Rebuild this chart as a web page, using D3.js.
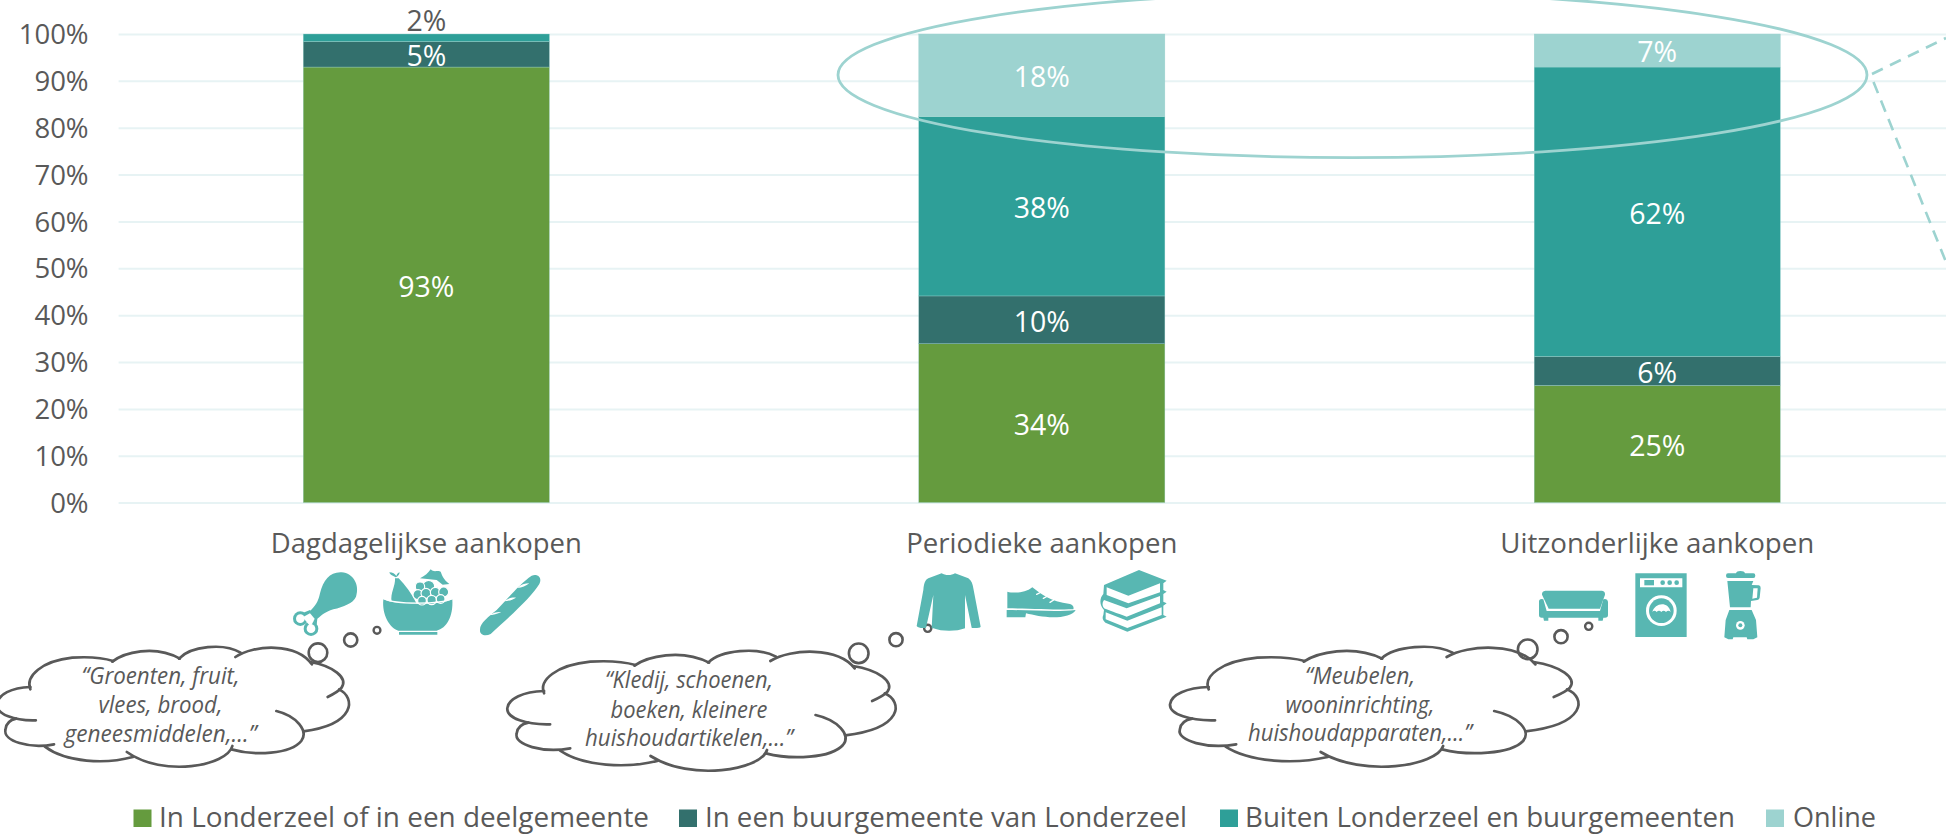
<!DOCTYPE html>
<html><head><meta charset="utf-8">
<script src="https://cdnjs.cloudflare.com/ajax/libs/d3/7.8.5/d3.min.js"></script>
<style>html,body{margin:0;padding:0;background:#fff;overflow:hidden}svg{display:block}text{font-family:"Open Sans",sans-serif}</style>
</head><body><svg id="c" width="1946" height="834"></svg>
<script>
const categories = ["Dagdagelijkse aankopen","Periodieke aankopen","Uitzonderlijke aankopen"];
const seriesNames = ["In Londerzeel of in een deelgemeente","In een buurgemeente van Londerzeel","Buiten Londerzeel en buurgemeenten","Online"];
const seriesColors = ["#659B3E","#33706D","#2E9F98","#9DD3D0"];
const inLonderzeel = [92.95,33.9,25];
const buurgemeente = [5.45,10.2,6.2];
const buiten = [1.6,38.25,61.75];
const online = [0,17.65,7.05];
const tickValues = [0,10,20,30,40,50,60,70,80,90,100];
const quotes = [
  ["“Groenten, fruit,","vlees, brood,","geneesmiddelen,…”"],
  ["“Kledij, schoenen,","boeken, kleinere","huishoudartikelen,…”"],
  ["“Meubelen,","wooninrichting,","huishoudapparaten,…”"]
];

const grey="#595959", iconC="#58B7B2", ringC="#9DD3D0";
const svg=d3.select("#c");
const x=d3.scaleBand().domain(categories).range([118.6,1965]).paddingInner(.6).paddingOuter(.3);
const y=d3.scaleLinear().domain([0,100]).range([502.6,34]);

// grid & axis
const ax=svg.append("g").attr("transform","translate(118.6,0)")
  .call(d3.axisLeft(y).tickValues(tickValues).tickFormat(d=>d+"%").tickSize(-1830).tickPadding(30));
ax.select(".domain").remove();
ax.selectAll("line").attr("stroke","#E7F3F4").attr("stroke-width",2);
ax.selectAll("text").attr("fill",grey).attr("font-size",27.5).attr("dy","0.35em").style("font-family",'"Open Sans"');

// stacked bars
const rows=categories.map((c,i)=>({c,s0:inLonderzeel[i],s1:buurgemeente[i],s2:buiten[i],s3:online[i]}));
const stack=d3.stack().keys(["s0","s1","s2","s3"])(rows);
stack.forEach((ser,si)=>{
  svg.append("g").selectAll("rect").data(ser).join("rect")
    .attr("x",d=>x(d.data.c)).attr("width",x.bandwidth())
    .attr("y",d=>y(d[1])).attr("height",d=>y(d[0])-y(d[1]))
    .attr("fill",seriesColors[si]).attr("stroke",ringC).attr("stroke-width",d=>d[1]>d[0]?.35:0);
});
stack.forEach((ser,si)=>{
  svg.append("g").selectAll("text").data(ser.filter(d=>d[1]>d[0])).join("text")
    .attr("x",d=>x(d.data.c)+x.bandwidth()/2)
    .attr("y",d=>{const v=d[1]-d[0];return v<3?y(d[1])-13:y((d[0]+d[1])/2)+2;})
    .attr("dy","0.35em").attr("text-anchor","middle").attr("font-size",28.5)
    .attr("fill",d=>d[1]-d[0]<3?grey:"#fff").text(d=>Math.round(d[1]-d[0])+"%");
});

// category labels
const catW=[311,271,314];
svg.append("g").selectAll("text").data(categories).join("text")
  .attr("x",d=>x(d)+x.bandwidth()/2).attr("y",553).attr("text-anchor","middle")
  .attr("font-size",28).attr("fill",grey)
  .attr("textLength",(d,i)=>catW[i]).attr("lengthAdjust","spacingAndGlyphs").text(d=>d);

// highlight ellipse + dashed leaders
svg.append("ellipse").attr("cx",1352.5).attr("cy",75).attr("rx",514.5).attr("ry",82.7)
  .attr("fill","none").attr("stroke",ringC).attr("stroke-width",2.8);
[[[1872,74],[1946,38]],[[1873.5,82],[1946,262]]].forEach(l=>{
  svg.append("path").attr("d",d3.line()(l)).attr("fill","none").attr("stroke",ringC)
    .attr("stroke-width",2.6).attr("stroke-dasharray","12 8");
});

// clouds: open arcs in one template shape
const cloudArcs=[
"M132,190 C115,150 170,105 270,95 C320,92 370,95 405,105",
"M402,107 C440,80 540,55 625,98",
"M622,98 C660,60 770,50 825,80",
"M808,93 C870,55 1010,50 1060,115",
"M1055,108 C1130,120 1180,155 1158,185 C1148,197 1130,205 1112,213",
"M1150,190 C1205,215 1205,295 1032,316",
"M943,255 C1010,270 1050,315 1025,345 C990,385 870,390 795,370",
"M798,360 C780,420 570,455 450,378",
"M470,393 C380,415 250,410 180,362",
"M210,355 C130,370 40,345 50,310 C52,292 65,282 85,278",
"M150,283 C80,285 20,265 22,235 C25,205 70,185 132,183"
];
const cloudPos=[{x:-3,y:646,sx:.91},{x:507.3,y:650,sx:1.004},{x:1170,y:646,sx:1.056}];
cloudPos.forEach(p=>{
  const g=svg.append("g").attr("transform",`translate(${p.x},${p.y}) scale(${p.sx/3},${1/3}) translate(-22,-60)`);
  g.selectAll("path").data(cloudArcs).join("path").attr("d",d=>d).attr("fill","none")
    .attr("stroke",grey).attr("stroke-width",2.7).attr("stroke-linecap","round").style("vector-effect","non-scaling-stroke");
});
const bubbles=[[318,652.7,9.3,2.6],[350.7,640,6.6,2.6],[377,630.3,3.4,2.4],
 [858.7,653.3,9.8,2.6],[896,639.7,6.6,2.6],[927.7,628.3,3.6,2.4],
 [1527.7,649.3,9.8,2.6],[1561,636.7,6.6,2.6],[1588.7,626.3,3.6,2.4]];
svg.append("g").selectAll("circle").data(bubbles).join("circle")
  .attr("cx",d=>d[0]).attr("cy",d=>d[1]).attr("r",d=>d[2]).attr("fill","none")
  .attr("stroke",grey).attr("stroke-width",d=>d[3]);

// cloud text
const quoteX=[160.5,689,1360], quoteY=[[684,713,742],[688,717.5,746],[684,713,741]];
const quoteW=[[158,124,192],[168,157,208],[110,149,224]];
quotes.forEach((q,i)=>q.forEach((t,j)=>{
  svg.append("text").attr("x",quoteX[i]).attr("y",quoteY[i][j]).attr("text-anchor","middle")
   .attr("font-size",23).attr("font-style","italic").attr("fill",grey)
   .attr("textLength",quoteW[i][j]).attr("lengthAdjust","spacingAndGlyphs").text(t);
}));

// legend
const legX=[133.5,679,1220,1766], legTx=[159,705,1245,1793], legW=[490,482,490,83];
seriesNames.forEach((n,i)=>{
  svg.append("rect").attr("x",legX[i]).attr("y",809.5).attr("width",18).attr("height",17.5).attr("fill",seriesColors[i]);
  svg.append("text").attr("x",legTx[i]).attr("y",827).attr("font-size",28).attr("fill",grey)
   .attr("textLength",legW[i]).attr("lengthAdjust","spacingAndGlyphs").text(n);
});

// pictograms, traced at 3x
const icons=svg.append("g");
function ic(ox,oy,fn){const g=icons.append("g").attr("transform",`translate(${ox},${oy}) scale(${1/3})`);fn(g);}
const P=(g,d,f=iconC)=>g.append("path").attr("d",d).attr("fill",f);
const C=(g,cx,cy,r,f=iconC)=>g.append("circle").attr("cx",cx).attr("cy",cy).attr("r",r).attr("fill",f);
const L=(g,d,w=5)=>g.append("path").attr("d",d).attr("fill","none").attr("stroke","#fff").attr("stroke-width",w).attr("stroke-linecap","round");
ic(280,560,g=>{
  // drumstick
  P(g,"M120,100 C130,60 150,35 185,37 C220,40 240,75 228,110 C220,130 190,140 160,148 C135,155 120,170 110,178 L88,155 C105,140 115,125 120,100 Z");
  C(g,61,176,22);C(g,93,206,22);
  P(g,"M70,158 L90,150 L112,176 L110,194 Z");
  C(g,61,176,13,"#fff");C(g,93,206,13,"#fff");
  P(g,"M68,172 L90,160 L104,176 L92,200 Z","#fff");
  // bowl
  P(g,"M310,118 C345,136 480,136 517,118 C520,170 500,205 470,212 L355,212 C330,205 305,165 310,118 Z");
  P(g,"M357,216 L472,216 L472,224 L357,224 Z");
  // pear
  P(g,"M335,125 C330,100 347,78 345,55 L356,55 C375,75 395,100 410,131 C380,132 355,129 335,125 Z");
  P(g,"M347,52 C340,48 330,45 328,37 C338,37 345,42 349,48 C351,42 354,38 359,37 C358,44 354,50 347,52 Z");
  // grapes + leaf
  P(g,"M420,55 C435,48 445,38 452,28 C462,38 470,30 482,35 C486,45 490,58 508,72 L488,74 L470,60 Z");
  [[446,79,18],[420,80,14],[414,104,15],[438,100,15],[466,97,15],[491,96,15],[426,122,13],[455,120,14],[482,117,13]].forEach(c=>{
    g.append("circle").attr("cx",c[0]).attr("cy",c[1]).attr("r",c[2]).attr("fill",iconC).attr("stroke","#fff").attr("stroke-width",3.5);
  });
  L(g,"M312,116 C345,134 480,134 517,116",4);
  // baguette
  P(g,"M600,208 C600,190 625,170 650,150 C680,120 720,70 755,47 C775,40 787,55 778,72 C755,110 700,160 632,222 C615,230 598,225 600,208 Z");
  P(g,"M625,166 C640,158 652,155 664,156 C652,162 640,165 625,166 Z M672,124 C685,115 695,112 708,113 C697,120 685,123 672,124 Z M712,84 C722,74 735,70 748,70 C738,78 726,83 712,84 Z","#fff");
});
ic(900,560,g=>{
  // sweater
  P(g,"M125,40 C135,47 155,47 165,40 L205,55 C215,62 218,72 220,85 L242,200 C240,205 220,205 215,203 L195,105 L195,205 C170,215 125,215 100,205 L95,205 L100,105 L78,203 C70,205 55,205 50,198 L70,90 C72,70 75,60 85,55 Z");
  // shoe
  P(g,"M322,95 C340,100 375,100 397,82 C420,100 450,125 510,132 C520,135 522,142 520,148 C470,150 390,145 322,145 Z");
  P(g,"M320,150 C390,150 470,157 527,150 C520,165 490,172 460,172 C430,172 400,165 378,160 L376,172 L320,172 Z");
  L(g,"M410,103 L424,96 M430,115 L443,108 M450,127 L461,120",4);
  // books
  P(g,"M717,30 L800,62 L790,70 L790,90 L800,95 L790,102 L790,125 L800,130 L790,137 L790,165 L800,170 L682,215 L620,190 C610,185 605,175 610,165 L612,150 C598,135 598,115 610,102 L612,75 Z");
  P(g,"M620,82 L685,107 L780,70 L780,97 L685,130 L620,105 Z M612,120 L680,145 L780,108 L780,130 L680,170 C650,160 625,150 612,145 C606,138 606,127 612,120 Z M617,157 L682,182 L785,142 L785,165 L682,204 L617,178 Z","#fff");
});
ic(1520,560,g=>{
  // sofa
  P(g,"M76,92 L246,92 Q256,93 255,104 L240,146 L86,146 L66,104 Q65,93 76,92 Z");
  P(g,"M57,125 Q57,115 70,118 L80,153 L240,153 L250,118 Q263,115 264,125 L264,165 Q264,173 255,173 L250,173 L248,182 L235,182 L235,173 L85,173 L85,182 L72,182 L70,173 L65,173 Q57,173 57,165 Z");
  // washing machine
  P(g,"M346,40 L500,40 L500,231 L346,231 Z");
  P(g,"M360,55 L487,55 L487,82 L360,82 Z","#fff");
  P(g,"M373,60 L402,60 L402,76 L373,76 Z");
  C(g,428,68,7);C(g,449,68,7);C(g,470,68,7);
  C(g,424,152,46,"#fff");C(g,424,152,37);
  P(g,"M397,156 C404,128 445,122 452,156 Q445,148 438,156 Q431,148 424,156 Q417,148 410,156 Q403,148 397,156 Z","#fff");
  // blender
  P(g,"M648,40 Q650,33 661,33 Q673,33 675,40 L700,40 Q706,40 706,47 Q706,54 700,54 L624,54 Q618,54 618,47 Q618,40 624,40 Z");
  P(g,"M622,63 L700,63 L695,75 L716,76 Q722,77 722,84 L719,113 Q718,119 712,120 L693,123 L692,142 L630,142 Z");
  P(g,"M700,85 L713,85 L711,113 L697,116 Z","#fff");
  P(g,"M628,150 L695,150 L708,180 L712,232 L700,238 L682,238 L680,232 L640,232 L638,238 L625,238 L613,232 L617,180 Z");
  C(g,661,196,13,"#fff");C(g,661,196,6);
});
</script></body></html>
